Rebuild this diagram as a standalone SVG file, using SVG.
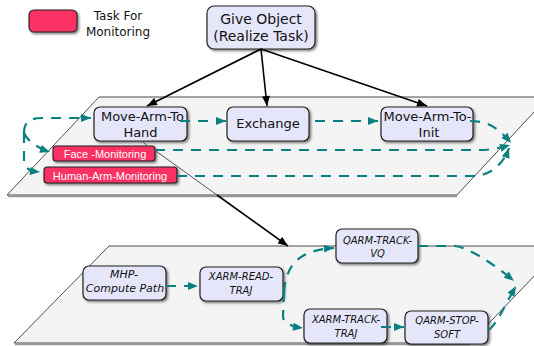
<svg xmlns="http://www.w3.org/2000/svg" width="534" height="346" viewBox="0 0 534 346">
<style>
.plane{fill:#f4f4f4;stroke:#222;stroke-width:0.8}
.pshadow{fill:none;stroke:#999;stroke-width:1.4}
.node{fill:#e6e6fa;stroke:#222;stroke-width:1.2}
.mon{fill:#fa3264;stroke:#222;stroke-width:1.1}
.t{font-family:"DejaVu Sans",sans-serif;font-size:13px;fill:#111;text-anchor:middle}
.tw{font-family:"Liberation Sans",Arial,sans-serif;font-size:11px;fill:#fff;text-anchor:middle}
.ti{font-family:"DejaVu Sans",sans-serif;font-style:italic;font-size:10px;fill:#111;text-anchor:middle}
.dash{fill:none;stroke:#0a8080;stroke-width:2.2;stroke-dasharray:10 8}
.blk{fill:none;stroke:#000;stroke-width:1.6}
</style>
<defs>
<filter id="sh" x="-10%" y="-15%" width="130%" height="150%">
<feDropShadow dx="1.6" dy="1.6" stdDeviation="0.8" flood-color="#000" flood-opacity="0.5"/>
</filter>
<marker id="ta" viewBox="0 0 10 8" refX="10" refY="4" markerWidth="11" markerHeight="8" markerUnits="userSpaceOnUse" orient="auto">
<path d="M0,0 L10,4 L0,8 Z" fill="#0a8080"/>
</marker>
<marker id="ba" viewBox="0 0 10 8" refX="10" refY="4" markerWidth="11" markerHeight="8" markerUnits="userSpaceOnUse" orient="auto">
<path d="M0,0 L10,4 L0,8 Z" fill="#000"/>
</marker>
</defs>

<g id="planes">
<line class="pshadow" x1="8" y1="196.5" x2="457" y2="196.5"/>
<polygon class="plane" points="99,97 548,97 457,195 7,195"/>
<line class="pshadow" x1="15" y1="344.5" x2="470" y2="344.5"/>
<polygon class="plane" points="109,246 563,246 470,343 14,343"/>
</g>

<g id="legend">
<rect class="mon" x="29" y="10" width="48" height="22" rx="5" filter="url(#sh)"/>
<text class="t" x="118" y="20" style="font-size:12px">Task For</text>
<text class="t" x="118" y="36" style="font-size:12px">Monitoring</text>
</g>

<g id="give-object">
<rect class="node" x="207" y="6" width="108" height="43" rx="7" filter="url(#sh)"/>
<text class="t" x="261" y="24" style="font-size:14px">Give Object</text>
<text class="t" x="261" y="41" style="font-size:14px">(Realize Task)</text>
</g>

<g id="move-arm-to-hand">
<rect class="node" x="94" y="107" width="93" height="34" rx="6" filter="url(#sh)"/>
<text class="t" x="142.5" y="121">Move-Arm-To</text>
<text class="t" x="140.5" y="137">Hand</text>
</g>

<g id="exchange">
<rect class="node" x="227" y="107" width="82" height="34" rx="6" filter="url(#sh)"/>
<text class="t" x="268" y="128">Exchange</text>
</g>

<g id="move-arm-to-init">
<rect class="node" x="381" y="107" width="92" height="34" rx="6" filter="url(#sh)"/>
<text class="t" x="427.5" y="121">Move-Arm-To-</text>
<text class="t" x="429" y="137">Init</text>
</g>

<g id="face-monitoring">
<rect class="mon" x="53" y="146" width="102" height="15" rx="3" filter="url(#sh)"/>
<text class="tw" x="105" y="158">Face -Monitoring</text>
</g>

<g id="human-arm-monitoring">
<rect class="mon" x="44" y="167" width="133" height="16" rx="3" filter="url(#sh)"/>
<text class="tw" x="110" y="180">Human-Arm-Monitoring</text>
</g>

<g id="mhp-compute-path">
<rect class="node" x="83" y="266" width="83" height="34" rx="6" filter="url(#sh)"/>
<text class="ti" x="124" y="278" style="font-size:11px">MHP-</text>
<text class="ti" x="125" y="292" style="font-size:11px">Compute Path</text>
</g>

<g id="xarm-read-traj">
<rect class="node" x="200" y="267" width="83" height="34" rx="6" filter="url(#sh)"/>
<text class="ti" x="241" y="280">XARM-READ-</text>
<text class="ti" x="241" y="294">TRAJ</text>
</g>

<g id="qarm-track-vq">
<rect class="node" x="336" y="229" width="82" height="34" rx="6" filter="url(#sh)"/>
<text class="ti" x="377.5" y="244">QARM-TRACK-</text>
<text class="ti" x="377.5" y="257">VQ</text>
</g>

<g id="xarm-track-traj">
<rect class="node" x="304" y="309" width="83" height="34" rx="6" filter="url(#sh)"/>
<text class="ti" x="346" y="323">XARM-TRACK-</text>
<text class="ti" x="346" y="337">TRAJ</text>
</g>

<g id="qarm-stop-soft">
<rect class="node" x="405" y="311" width="83" height="33" rx="6" filter="url(#sh)"/>
<text class="ti" x="447" y="324">QARM-STOP-</text>
<text class="ti" x="447" y="338">SOFT</text>
</g>

<g id="connectors">
<line class="blk" x1="261" y1="49" x2="147" y2="106" marker-end="url(#ba)"/>
<line class="blk" x1="261" y1="49" x2="267" y2="106" marker-end="url(#ba)"/>
<line class="blk" x1="261" y1="49" x2="427" y2="106" marker-end="url(#ba)"/>
<path d="M142,141 L147.6,146 M155,150.4 L217,195" fill="none" stroke="#555" stroke-width="1"/>
<line class="blk" x1="217" y1="195" x2="288" y2="246" marker-end="url(#ba)"/>

<path class="dash" d="M24,133 C24,122 30,118 42,118 L91,118" marker-end="url(#ta)"/>
<path class="dash" d="M24,133 C28,142 38,148 50,152" marker-end="url(#ta)"/>
<path class="dash" d="M24,133 L24,162 C24,168 30,171 40,172" marker-end="url(#ta)"/>
<path class="dash" d="M180,121 L226,121" marker-end="url(#ta)"/>
<path class="dash" d="M315,121 L378,121" marker-end="url(#ta)"/>
<path class="dash" d="M470,121 C490,121 500,130 511,143" marker-end="url(#ta)"/>
<path class="dash" d="M155,150 L480,150 C490,150 500,148 510,145" marker-end="url(#ta)"/>
<path class="dash" d="M177,176 L475,176 C490,175 503,165 509,148" marker-end="url(#ta)"/>

<path class="dash" d="M166,286 L198,286" marker-end="url(#ta)"/>
<path class="dash" d="M284,292 C286,262 302,250 334,248" marker-end="url(#ta)"/>
<path class="dash" d="M284,292 L283,316 C283,322 288,326 303,328" marker-end="url(#ta)"/>
<path class="dash" d="M381,327 L404,327" marker-end="url(#ta)"/>
<path class="dash" d="M418,246 L455,246 C470,248 495,265 514,281" marker-end="url(#ta)"/>
<path class="dash" d="M489,330 C498,322 505,305 516,286" marker-end="url(#ta)"/>
</g>
</svg>
